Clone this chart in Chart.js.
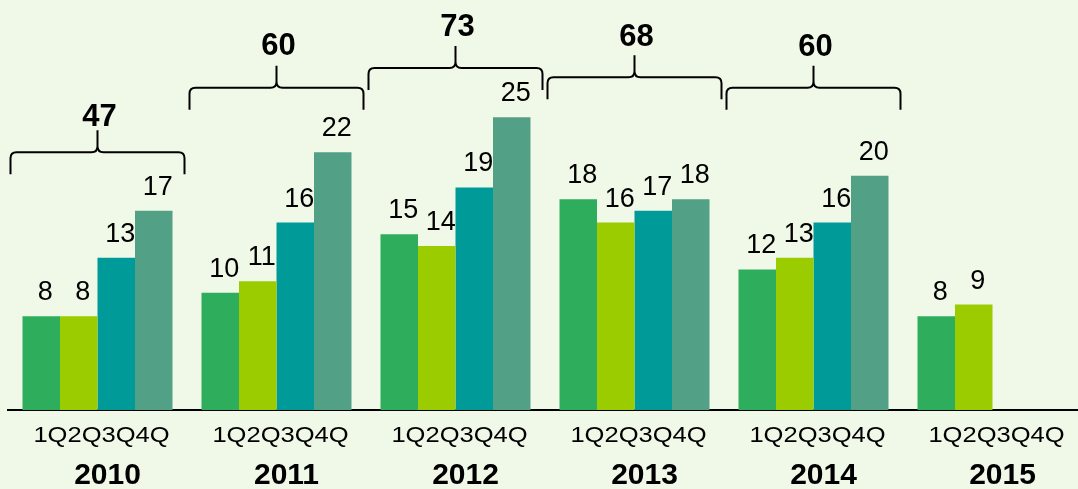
<!DOCTYPE html>
<html>
<head>
<meta charset="utf-8">
<script src="https://cdn.jsdelivr.net/npm/chart.js@4/dist/chart.umd.min.js"></script>
<style>
    html, body { margin: 0; padding: 0; background: #F0F8E8; overflow: hidden; }
    canvas { display: block; }
</style>
</head>
<body>
<canvas id="graficoTrimestres" width="1082" height="489"></canvas>
<script>
// vendas por trimestre
var anos = ['2010', '2011', '2012', '2013', '2014', '2015'];
var trimestres = ['1Q', '2Q', '3Q', '4Q'];
var q1 = [8, 10, 15, 18, 12, 8];
var q2 = [8, 11, 14, 16, 13, 9];
var q3 = [13, 16, 19, 17, 16, null];
var q4 = [17, 22, 25, 18, 20, null];
var totais = [47, 60, 73, 68, 60];

var cores = ['#2EAD5C', '#9BCC00', '#009A99', '#52A085'];
var fonte = "'Liberation Sans', Arial, sans-serif";

// chaves acima de cada ano com o total
var chaves = {
    id: 'chaves',
    afterDatasetsDraw(chart, args, options) {
        const { ctx, scales: { x, y } } = chart;
        ctx.save();
        ctx.strokeStyle = '#000';
        ctx.lineWidth = 2;
        ctx.fillStyle = '#000';
        ctx.font = 'bold 31px ' + fonte;
        ctx.textAlign = 'center';
        ctx.textBaseline = 'alphabetic';
        options.niveis.forEach(function (n, i) {
            var cx = x.getPixelForValue(i);
            var meia = 87;
            var x0 = cx - meia, x1 = cx + meia;
            var yl = y.getPixelForValue(n.nivel);
            var r = 6, h = 22;
            ctx.beginPath();
            ctx.moveTo(x0, yl + h);
            ctx.lineTo(x0, yl + r);
            ctx.quadraticCurveTo(x0, yl, x0 + r, yl);
            ctx.lineTo(cx - r, yl);
            ctx.quadraticCurveTo(cx, yl, cx, yl - r);
            ctx.lineTo(cx, yl - h);
            ctx.moveTo(cx, yl - r);
            ctx.quadraticCurveTo(cx, yl, cx + r, yl);
            ctx.lineTo(x1 - r, yl);
            ctx.quadraticCurveTo(x1, yl, x1, yl + r);
            ctx.lineTo(x1, yl + h);
            ctx.stroke();
            ctx.fillText(totais[i], cx + 2, yl - h - n.folga);
        });
        ctx.restore();
    }
};

// valores em cima das barras e trimestres embaixo
var rotulos = {
    id: 'rotulos',
    afterDatasetsDraw(chart) {
        const { ctx, chartArea, scales: { x } } = chart;
        ctx.save();
        ctx.fillStyle = '#000';
        ctx.textAlign = 'center';
        chart.data.datasets.forEach(function (ds, d) {
            var meta = chart.getDatasetMeta(d);
            meta.data.forEach(function (barra, i) {
                if (ds.data[i] === null) return;
                ctx.font = '27px ' + fonte;
                ctx.textBaseline = 'alphabetic';
                ctx.fillText(ds.data[i], barra.x + 4, barra.y - 16);
            });
        });
        // texto dos trimestres meio esticado na horizontal
        ctx.font = '22px ' + fonte;
        ctx.textBaseline = 'middle';
        anos.forEach(function (a, i) {
            var cx = x.getPixelForValue(i) + 4;
            ctx.save();
            ctx.translate(cx, chartArea.bottom + 26);
            ctx.scale(1.16, 1);
            ctx.fillText(trimestres.join(''), 0, 0);
            ctx.restore();
        });
        ctx.restore();
    }
};

var series = [q1, q2, q3, q4];
var config = {
    type: 'bar',
    data: {
        labels: anos,
        datasets: series.map(function (s, i) {
            return {
                label: trimestres[i],
                data: s,
                backgroundColor: cores[i],
                borderWidth: 0,
                categoryPercentage: 0.838,
                barPercentage: 1
            };
        })
    },
    options: {
        responsive: false,
        animation: false,
        devicePixelRatio: 1,
        layout: { padding: { left: 8, right: 0, top: 0, bottom: 0 } },
        scales: {
            x: {
                grid: { display: false, drawTicks: false },
                border: { display: true, color: '#000', width: 2 },
                afterFit(axis) { axis.height = 79; },
                ticks: {
                    color: '#000',
                    padding: 48,
                    labelOffset: 10,
                    font: { family: fonte, size: 30, weight: 'bold' }
                }
            },
            y: {
                display: false,
                min: 0,
                max: 35
            }
        },
        plugins: {
            legend: { display: false },
            tooltip: { enabled: false },
            chaves: {
                niveis: [
                    { nivel: 22, folga: 4 },
                    { nivel: 27.5, folga: 11 },
                    { nivel: 29.2, folga: 10 },
                    { nivel: 28.4, folga: 9 },
                    { nivel: 27.5, folga: 10 }
                ]
            }
        }
    },
    plugins: [chaves, rotulos]
};

var grafico = new Chart(document.getElementById('graficoTrimestres'), config);
</script>
</body>
</html>
